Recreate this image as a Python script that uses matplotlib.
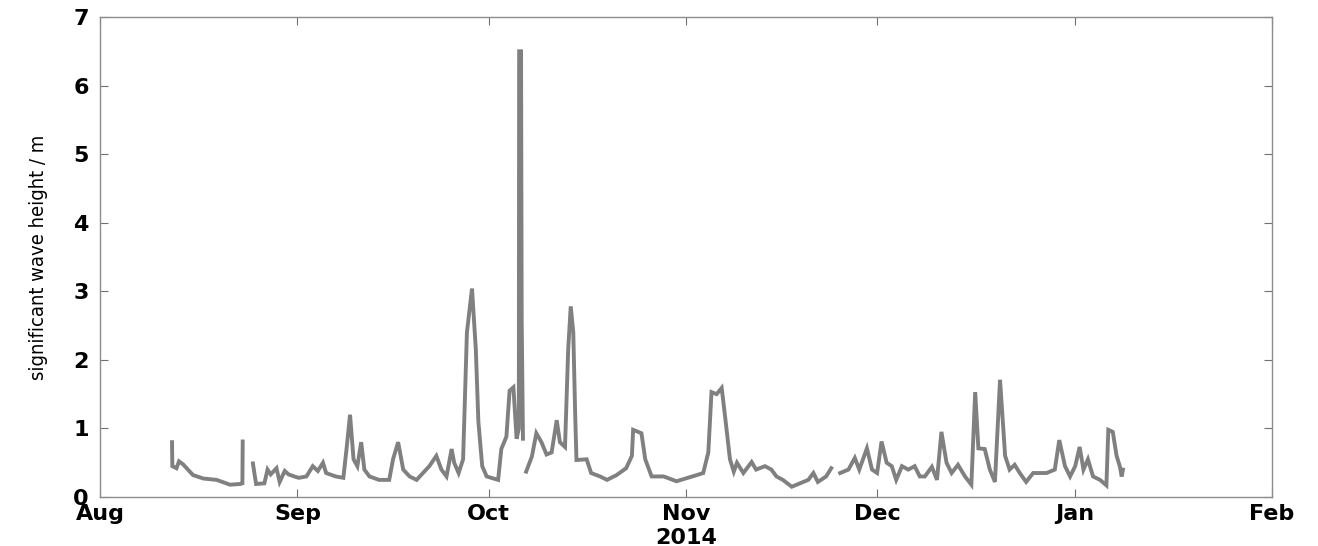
import numpy as np
import pandas as pd
import matplotlib
matplotlib.use("Agg")
import matplotlib.pyplot as plt
import matplotlib.dates as mdates

# dias contados a partir de 1 de agosto de 2014, altura significativa (m)
start = pd.Timestamp("2014-08-01")

days_aug = [11.3, 11.35, 12.0, 12.4, 13.0, 13.6, 14.6, 16.2, 18.3, 20.4, 22.0, 22.35, 22.4]
hs_aug = [0.80, 0.45, 0.42, 0.52, 0.48, 0.42, 0.32, 0.27, 0.25, 0.18, 0.19, 0.20, 0.81]

days_sep = [24.0, 24.4, 24.5, 25.8, 26.3, 26.8, 27.3, 27.7, 28.2, 29.0, 29.6, 30.5, 31.2,
            32.4, 33.4, 34.2, 35.0, 35.5, 37.0, 38.2, 38.7, 39.25, 39.8, 40.4, 41.0, 41.5,
            42.3, 43.8, 45.4, 46.0, 46.8, 47.6, 48.6, 49.7, 50.7, 51.7, 52.8, 53.6, 54.4,
            55.2, 55.6, 56.3, 57.0, 57.6, 58.4, 59.0, 59.4, 60.0, 60.7, 62.5, 63.0, 63.8,
            64.3, 64.9, 65.4, 65.75, 65.8, 66.1, 66.2, 66.4]
hs_sep = [0.49, 0.25, 0.19, 0.20, 0.40, 0.33, 0.38, 0.42, 0.22, 0.38, 0.33, 0.30, 0.28,
          0.30, 0.45, 0.38, 0.50, 0.35, 0.30, 0.28, 0.70, 1.20, 0.55, 0.45, 0.80, 0.40,
          0.30, 0.25, 0.25, 0.55, 0.80, 0.40, 0.30, 0.25, 0.35, 0.45, 0.60, 0.40, 0.30,
          0.70, 0.50, 0.35, 0.55, 2.40, 3.04, 2.15, 1.10, 0.45, 0.30, 0.25, 0.70, 0.88,
          1.55, 1.60, 0.85, 1.00, 6.50, 6.50, 2.60, 0.85]

days_oct = [66.9, 67.8, 68.5, 69.3, 70.1, 70.9, 71.7, 72.2, 73.0, 73.5, 73.9, 74.3, 74.6,
            74.8, 76.4, 77.1, 78.5, 79.6, 81.1, 82.6, 83.5, 83.7, 85.0, 85.6, 86.6, 88.5,
            90.5, 93.7, 94.7, 95.5, 96.0, 96.8, 97.6, 98.1, 98.9, 99.5, 100.0, 101.0, 102.3,
            103.0, 104.4, 105.4, 106.2, 107.2, 108.6, 109.9, 111.2, 112.0, 112.7, 114.0, 114.8]
hs_oct = [0.37, 0.59, 0.93, 0.80, 0.62, 0.65, 1.12, 0.80, 0.73, 2.15, 2.78, 2.40, 1.20,
          0.54, 0.55, 0.35, 0.30, 0.25, 0.32, 0.42, 0.60, 0.98, 0.93, 0.55, 0.30, 0.30,
          0.23, 0.32, 0.35, 0.65, 1.53, 1.50, 1.59, 1.20, 0.55, 0.37, 0.50, 0.35, 0.51,
          0.40, 0.45, 0.40, 0.30, 0.25, 0.15, 0.20, 0.25, 0.35, 0.22, 0.30, 0.42]

days_nov = [116.2, 117.5, 118.5, 119.2, 120.4, 121.2, 122.0, 122.7, 123.5, 124.3, 125.0,
            125.9, 126.9, 127.9, 128.7, 129.5, 130.6, 131.4, 132.1, 132.9, 133.7, 134.7,
            135.8, 136.8, 137.4, 137.9, 138.9, 139.7, 140.5, 141.3, 142.1, 142.8, 143.6,
            144.4, 145.4, 146.5, 148.6, 149.9, 150.6, 151.5, 152.3, 153.1, 153.8, 154.4,
            155.1, 155.9, 157.0, 158.0, 158.3, 159.0, 159.6, 160.1, 160.4, 160.6]
hs_nov = [0.35, 0.40, 0.57, 0.40, 0.71, 0.40, 0.35, 0.81, 0.50, 0.45, 0.25,
          0.45, 0.40, 0.45, 0.30, 0.30, 0.44, 0.25, 0.95, 0.50, 0.35, 0.47,
          0.30, 0.18, 1.53, 0.71, 0.70, 0.40, 0.22, 1.71, 0.60, 0.40, 0.47,
          0.35, 0.22, 0.35, 0.35, 0.40, 0.83, 0.45, 0.30, 0.45, 0.73, 0.40,
          0.55, 0.30, 0.25, 0.17, 0.98, 0.95, 0.60, 0.45, 0.30, 0.40]

segments = [(days_aug, hs_aug), (days_sep, hs_sep), (days_oct, hs_oct), (days_nov, hs_nov)]

fig = plt.figure(figsize=(13.18, 5.46), dpi=100)
ax = fig.add_axes([0.0759, 0.0897, 0.8892, 0.8792])

for d, h in segments:
    t = start + pd.to_timedelta(np.array(d), unit="D")
    ax.plot(t, h, color="#808080", linewidth=2.8, solid_joinstyle="miter")

ax.set_xlim(pd.Timestamp("2014-08-01"), pd.Timestamp("2015-02-01"))
ax.set_ylim(0, 7)
ax.set_yticks(range(0, 8))
ax.xaxis.set_major_locator(mdates.MonthLocator())
ax.xaxis.set_major_formatter(mdates.DateFormatter("%b"))

for s in ax.spines.values():
    s.set_color("#8c8c8c")
    s.set_linewidth(1.0)
ax.tick_params(direction="in", length=6, color="#707070", top=True, right=True,
               labelsize=16)
ax.tick_params(axis="x", pad=5)
ax.tick_params(axis="y", pad=8)
for lbl in ax.get_xticklabels() + ax.get_yticklabels():
    lbl.set_fontweight("bold")

ax.set_xlabel("2014", fontsize=16, fontweight="bold", labelpad=3)
ax.set_ylabel("significant wave height / m", fontsize=14.5, family="DejaVu Sans",
              fontstretch="condensed", labelpad=18)

fig.savefig("out.png", dpi=100)
